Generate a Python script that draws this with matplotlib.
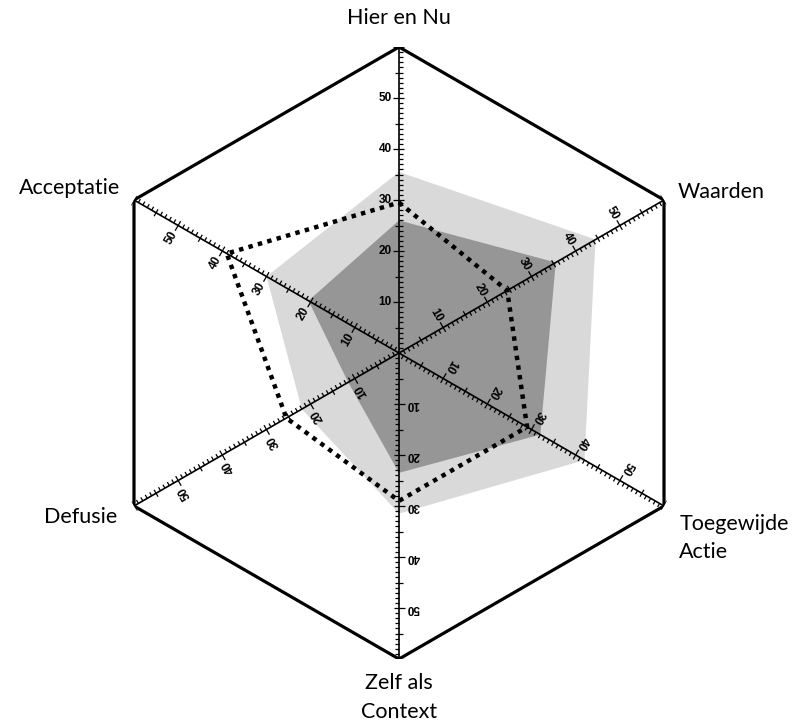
import numpy as np
import matplotlib
matplotlib.use("Agg")
import matplotlib.pyplot as plt

# data
categories = ["Hier en Nu", "Waarden", "Toegewijde\nActie", "Zelf als\nContext", "Defusie", "Acceptatie"]
light_vals = [35.5, 44.5, 42, 31.5, 22, 30]
dark_vals = [26, 35.5, 32, 23.5, 11.5, 20.5]
dotted_vals = [29.5, 24.5, 29, 29, 25.5, 39]
tick_labels = [10, 20, 30, 40, 50]
r_max = 60

angles = np.deg2rad(np.arange(0, 360, 60))  # clockwise from north

fig = plt.figure(figsize=(8.01, 7.21), dpi=100)
ax = fig.add_axes([93 / 801, 62 / 721, 612 / 801, 612 / 721], projection="polar")
ax.set_theta_zero_location("N")
ax.set_theta_direction(-1)
ax.set_ylim(0, r_max)
ax.set_axis_off()

def closed(a):
    return np.concatenate([a, a[:1]])

th = closed(angles)

# filled areas (polygons are drawn straight in polar axes)
ax.fill(th, closed(np.array(light_vals)), color="#d9d9d9", lw=0, zorder=1)
ax.fill(th, closed(np.array(dark_vals)), color="#969696", lw=0, zorder=2)

# outer hexagon frame
ax.fill(th, closed(np.full(6, r_max)), facecolor="none", edgecolor="black", lw=2.3, zorder=5, joinstyle="miter")

px = r_max / 306.0  # data units per pixel

def perp(theta, r, d):
    # point at radius r on spoke theta, shifted d units sideways (positive = clockwise side)
    return theta + np.arctan2(d, r), np.hypot(r, d)

for k, a in enumerate(angles):
    ax.plot([a, a], [0, r_max], color="black", lw=1.2, zorder=3, solid_capstyle="butt")
    for r in range(1, r_max + 1):
        if r % 10 == 0:
            d1, d2 = -6 * px, 5 * px
        elif r % 5 == 0:
            d1, d2 = -4 * px, 4 * px
        else:
            d1, d2 = 0, 4 * px
        t1, r1 = perp(a, r, d1)
        t2, r2 = perp(a, r, d2)
        ax.plot([t1, t2], [r1, r2], color="black", lw=0.9, zorder=3, solid_capstyle="butt")
    rot = (90 - np.rad2deg(a)) - 90
    for v in tick_labels:
        tl, rl = perp(a, v, -14 * px)
        ax.text(tl, rl, str(v), rotation=rot, rotation_mode="anchor", ha="center", va="center",
                fontsize=8.5, fontweight="bold", family="Liberation Sans", zorder=4)

# dotted series
ax.plot(th, closed(np.array(dotted_vals)), color="black", lw=3.2, dashes=(1, 1.2), zorder=6)

# category labels
label_font = dict(fontsize=15.5, family="Lato")
offsets = [(0, 21, "center"), (10, 6, "left"), (11, -23, "left"),
           (0, -28, "center"), (-12, -8, "right"), (-10, 9, "right")]
for a, name, (dx, dy, ha) in zip(angles, categories, offsets):
    ax.annotate(name, xy=(a, r_max), xytext=(dx, dy), textcoords="offset points",
                ha=ha, va="center", linespacing=1.55, annotation_clip=False, **label_font)

fig.savefig("out.png", dpi=100)
